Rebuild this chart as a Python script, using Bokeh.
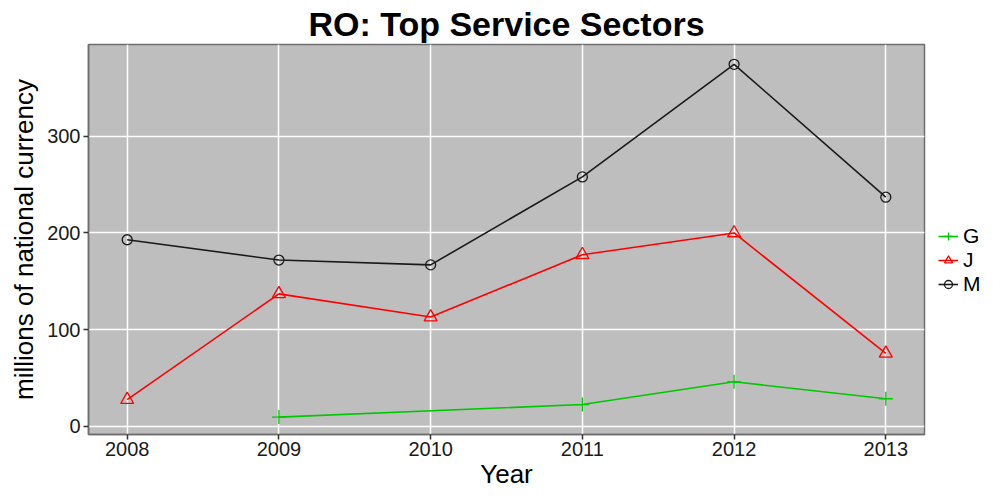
from bokeh.plotting import figure
from bokeh.layouts import row
from bokeh.models import Range1d, Legend, LegendItem, FixedTicker, Spacer
from bokeh.embed import file_html
from bokeh.resources import INLINE

years = [2008, 2009, 2010, 2011, 2012, 2013]
g_vals = [None, 9.5, None, 22.5, 46, 28.5]
j_vals = [27.5, 137, 113, 177.5, 200, 75.5]
m_vals = [193, 172, 167, 258, 374.5, 237]
y_ticks = [0, 100, 200, 300]

FONT = "Liberation Sans"

p = figure(frame_width=836, frame_height=390, output_backend="svg", toolbar_location=None,
           x_range=Range1d(2007.745, 2013.255), y_range=Range1d(-8.5, 395),
           title="RO: Top Service Sectors", min_border_left=0, min_border_right=0,
           min_border_top=0, min_border_bottom=0)

p.title.text_font = FONT
p.title.text_font_size = "34px"
p.title.text_font_style = "bold"
p.title.align = "center"
p.title.text_color = "black"
p.title.standoff = 4

p.background_fill_color = "#BEBEBE"
p.border_fill_color = "white"
p.outline_line_color = "#6E6E6E"
p.outline_line_width = 1.5

p.xgrid.grid_line_color = "white"
p.ygrid.grid_line_color = "white"
p.xgrid.grid_line_width = 1.5
p.ygrid.grid_line_width = 1.5

p.xaxis.ticker = FixedTicker(ticks=years)
p.yaxis.ticker = FixedTicker(ticks=y_ticks)
p.xaxis.axis_label = "Year"
p.yaxis.axis_label = "millions of national currency"
for ax in (p.xaxis[0], p.yaxis[0]):
    ax.axis_label_text_font = FONT
    ax.axis_label_text_font_size = "26px"
    ax.axis_label_text_font_style = "normal"
    ax.axis_label_text_color = "black"
    ax.major_label_text_font = FONT
    ax.major_label_text_font_size = "20px"
    ax.major_label_text_color = "#1A1A1A"
    ax.major_tick_out = 5
    ax.major_tick_in = 0
    ax.minor_tick_out = 0
    ax.minor_tick_in = 0
    ax.major_tick_line_color = "#333333"
    ax.major_tick_line_width = 1.5
    ax.axis_line_color = "#6E6E6E"
    ax.axis_line_width = 1.5
p.yaxis[0].axis_label_standoff = 5
p.yaxis[0].major_label_standoff = 3
p.xaxis[0].axis_label_standoff = 0
p.xaxis[0].major_label_standoff = 2

g_x = [x for x, v in zip(years, g_vals) if v is not None]
g_y = [v for v in g_vals if v is not None]

GREEN = "#00C800"
RED = "#FF0000"
BLACK = "#1A1A1A"

gl = p.line(g_x, g_y, line_color=GREEN, line_width=1.6)
gs = p.scatter(g_x, g_y, marker="cross", size=14, line_color=GREEN, line_width=1.3)
jl = p.line(years, j_vals, line_color=RED, line_width=1.6)
js = p.scatter(years, j_vals, marker="triangle", size=13, line_color=RED, fill_color=None, line_width=1.3)
ml = p.line(years, m_vals, line_color=BLACK, line_width=1.6)
ms = p.scatter(years, m_vals, marker="circle", size=10, line_color=BLACK, fill_color=None, line_width=1.3)

legend = Legend(items=[LegendItem(label="G", renderers=[gl, gs]),
                       LegendItem(label="J", renderers=[jl, js]),
                       LegendItem(label="M", renderers=[ml, ms])],
                location=(14, 138))
legend.label_text_font = FONT
legend.label_text_font_size = "21px"
legend.label_text_color = "black"
legend.border_line_color = None
legend.background_fill_alpha = 0
legend.margin = 10
legend.padding = 0
legend.spacing = 0
legend.glyph_width = 20
legend.glyph_height = 24
legend.label_standoff = 5
legend.label_height = 24
p.add_layout(legend, "right")

layout = row(Spacer(width=6, height=470), p)
open("out.html", "w").write(file_html(layout, INLINE))
